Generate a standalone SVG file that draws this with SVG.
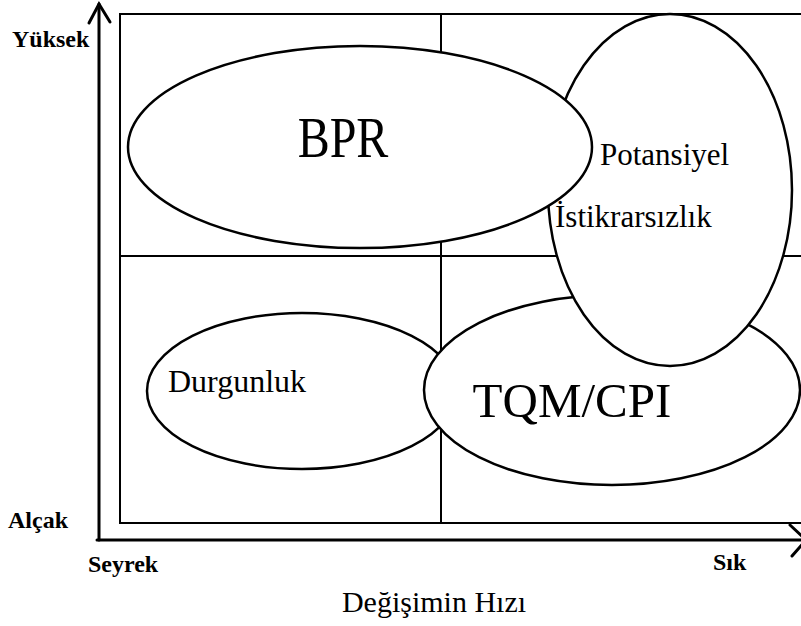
<svg xmlns="http://www.w3.org/2000/svg" width="801" height="626" viewBox="0 0 801 626">
  <style>
    .grid { stroke: #000; stroke-width: 2; fill: none; }
    .axis { stroke: #000; stroke-width: 3; fill: none; stroke-linecap: round; }
    .zone { fill: #fff; stroke: #000; stroke-width: 2.5; }
    .tick { font-size: 24px; font-weight: bold; }
  </style>
  <rect width="801" height="626" fill="#fff"/>

  <!-- quadrant frame -->
  <g id="frame">
    <polyline class="grid" points="801,14 120,14 120,523 801,523"/>
    <line class="grid" x1="441" y1="14" x2="441" y2="523"/>
    <line class="grid" x1="120" y1="256" x2="801" y2="256"/>
  </g>

  <!-- axes with open arrowheads -->
  <g id="axes">
    <line class="axis" x1="99" y1="4" x2="99" y2="540"/>
    <polyline class="axis" points="89,23 99,4 110,22"/>
    <line class="axis" x1="97" y1="540" x2="806" y2="540"/>
    <polyline class="axis" points="790,525 806,540 792,556"/>
  </g>

  <!-- regions (later ones overlap earlier ones) -->
  <g id="durgunluk">
    <ellipse class="zone" cx="302" cy="391" rx="155" ry="78"/>
    <text x="168" y="392" font-size="32" font-family="Liberation Serif, serif">Durgunluk</text>
  </g>
  <g id="tqm-cpi">
    <ellipse class="zone" cx="612" cy="390" rx="188" ry="95"/>
    <text x="572" y="417" font-size="49" text-anchor="middle" font-family="Liberation Serif, serif">TQM/CPI</text>
  </g>
  <g id="potansiyel">
    <ellipse class="zone" cx="670" cy="190" rx="122" ry="176"/>
    <text x="600" y="165" font-size="31" font-family="Liberation Serif, serif">Potansiyel</text>
    <text x="555" y="227" font-size="31" font-family="Liberation Serif, serif">İstikrarsızlık</text>
  </g>
  <g id="bpr">
    <ellipse class="zone" cx="360" cy="147" rx="232" ry="101"/>
    <text transform="translate(343,157) scale(1,1.2)" font-size="48" text-anchor="middle" font-family="Liberation Serif, serif">BPR</text>
  </g>

  <!-- axis labels -->
  <g id="labels">
    <text class="tick" x="12" y="47" font-family="Liberation Serif, serif">Yüksek</text>
    <text class="tick" x="8" y="528" font-family="Liberation Serif, serif">Alçak</text>
    <text class="tick" x="88" y="572" font-family="Liberation Serif, serif">Seyrek</text>
    <text class="tick" x="713" y="570" font-family="Liberation Serif, serif">Sık</text>
    <text x="434" y="612" font-size="30" text-anchor="middle" font-family="Liberation Serif, serif">Değişimin Hızı</text>
  </g>
</svg>
